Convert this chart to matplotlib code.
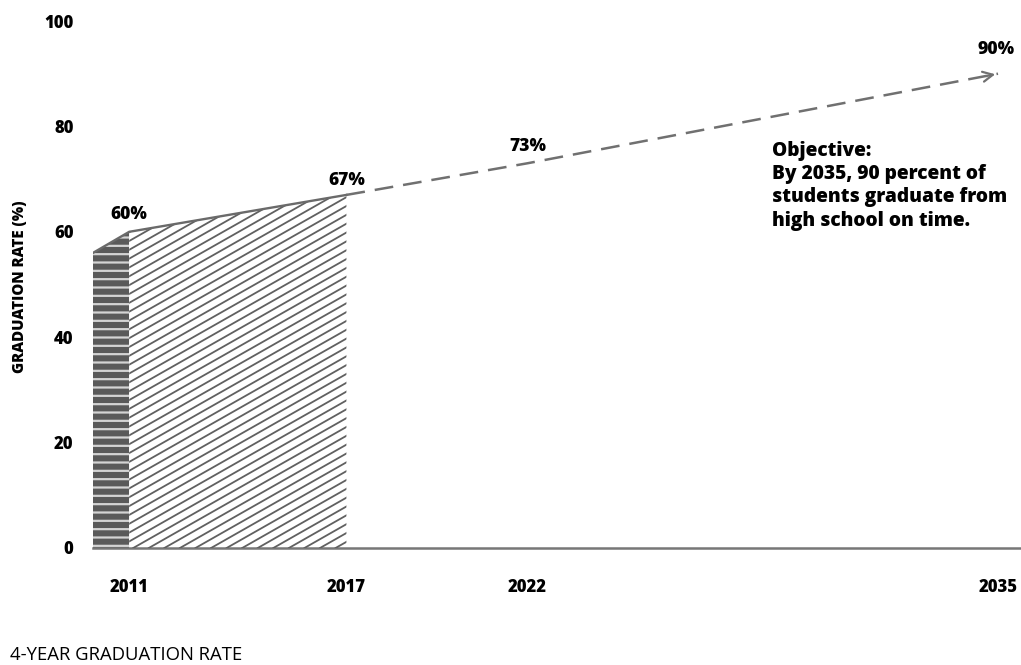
import numpy as np
import matplotlib.pyplot as plt
from matplotlib.patches import Polygon

plt.rcParams['font.family'] = ['Open Sans', 'DejaVu Sans']
plt.rcParams['hatch.linewidth'] = 1.6

# actual rates (bar start, first labelled year, last actual year)
actual_years = [2010, 2011, 2017]
actual_rates = [56, 60, 67]

# projected path toward the goal
proj_years = [2017, 2022, 2035]
proj_rates = [67, 73, 90]

xticks = [2011, 2017, 2022, 2035]
yticks = [0, 20, 40, 60, 80, 100]

fig = plt.figure(figsize=(10.21, 6.65), dpi=100)
ax = fig.add_axes([93 / 1021, 117 / 665, 1 - 93 / 1021, (548 - 21) / 665])

ax.set_xlim(actual_years[0], actual_years[0] + (1021 - 93) / 36.2)
ax.set_ylim(0, 100)

# dark striped bar for the first year
dark = Polygon([(actual_years[0], 0), (actual_years[0], actual_rates[0]),
                (actual_years[1], actual_rates[1]), (actual_years[1], 0)],
               closed=True, facecolor='#5a5a5a', edgecolor='#d4d4d4',
               linewidth=0, hatch='--', zorder=2)
ax.add_patch(dark)

# diagonal hatched area between 2011 and 2017
area = Polygon([(actual_years[1], 0), (actual_years[1], actual_rates[1]),
                (actual_years[2], actual_rates[2]), (actual_years[2], 0)],
               closed=True, facecolor='white', edgecolor='none', zorder=2)
ax.add_patch(area)
slope = 3.9
for x0 in np.arange(actual_years[1] - 70 / slope, actual_years[2] + 0.5, 0.43):
    xs = np.array([x0, x0 + 100 / slope])
    ln, = ax.plot(xs, slope * (xs - x0), color='#606060', lw=1.3, zorder=3)
    ln.set_clip_path(area)

ax.plot(actual_years, actual_rates, color='#6a6a6a', lw=1.7, zorder=4)

# dashed projection
ax.plot(proj_years, proj_rates, color='#707070', lw=1.8,
        linestyle=(0, (7.5, 4)), zorder=4)
ax.annotate('', xy=(proj_years[-1], proj_rates[-1]),
            xytext=(proj_years[-1] - 0.4, proj_rates[-1] - 0.55),
            arrowprops=dict(arrowstyle='->', color='#707070', lw=1.6,
                            mutation_scale=18))

lab = dict(ha='center', va='center', fontsize=12.5, fontweight=800)
ax.text(2011, 63.2, '60%', **lab)
ax.text(2017, 69.8, '67%', **lab)
ax.text(2022, 76.1, '73%', **lab)
ax.text(2034.95, 94.5, '90%', **lab)

ax.text(2028.76, 77.3,
        'Objective:\nBy 2035, 90 percent of\nstudents graduate from\nhigh school on time.',
        ha='left', va='top', fontsize=13.8, fontweight=800, linespacing=1.22)

for s in ['top', 'right', 'left']:
    ax.spines[s].set_visible(False)
ax.spines['bottom'].set_color('#777777')
ax.spines['bottom'].set_linewidth(1.8)

ax.set_xticks(xticks)
ax.set_xticklabels([str(t) for t in xticks], fontsize=12, fontweight=800)
ax.set_yticks(yticks)
ax.set_yticklabels([str(t) for t in yticks], fontsize=12, fontweight=800)
ax.tick_params(axis='both', length=0)
ax.tick_params(axis='x', pad=22)
ax.tick_params(axis='y', pad=14)

fig.text(20 / 1021, 1 - 287 / 665, 'GRADUATION RATE (%)', rotation=90,
         ha='center', va='center', fontsize=10.8, fontweight=800)
fig.text(10 / 1021, 1 - 655 / 665, '4-YEAR GRADUATION RATE', ha='left',
         va='center', fontsize=13.3)

fig.savefig('out.png', dpi=100)
